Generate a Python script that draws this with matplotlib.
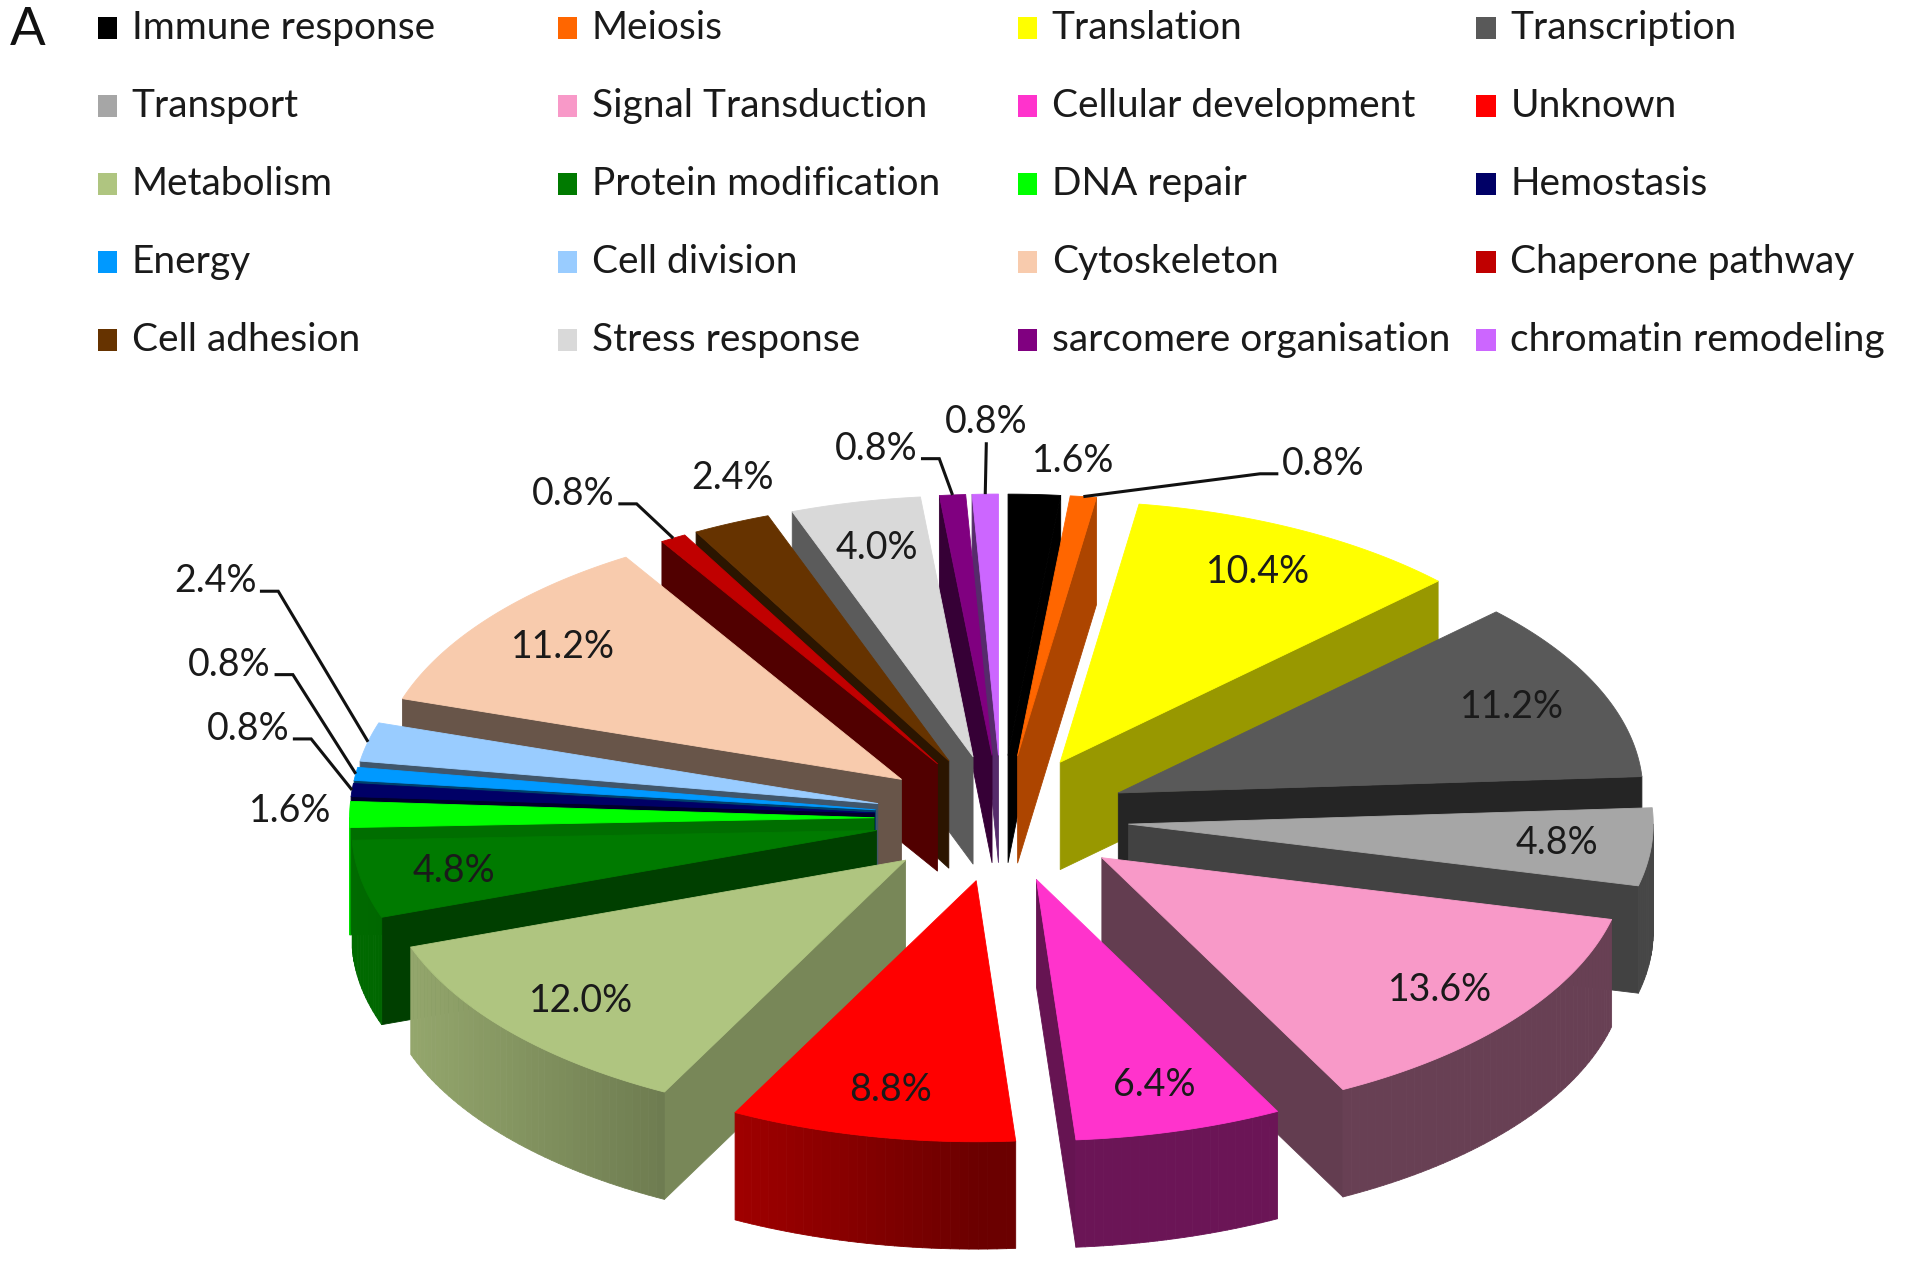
import numpy as np
import matplotlib
matplotlib.use("Agg")
import matplotlib.pyplot as plt
from matplotlib.patches import Polygon, Rectangle
from matplotlib import colors as mcolors

# ---------------- data ----------------
categories = ["Immune response", "Meiosis", "Translation", "Transcription",
              "Transport", "Signal Transduction", "Cellular development", "Unknown",
              "Metabolism", "Protein modification", "DNA repair", "Hemostasis",
              "Energy", "Cell division", "Cytoskeleton", "Chaperone pathway",
              "Cell adhesion", "Stress response", "sarcomere organisation",
              "chromatin remodeling"]
values = [1.6, 0.8, 10.4, 11.2, 4.8, 13.6, 6.4, 8.8, 12.0, 4.8,
          1.6, 0.8, 0.8, 2.4, 11.2, 0.8, 2.4, 4.0, 0.8, 0.8]
slice_colors = ["#000000", "#FF6600", "#FFFF00", "#595959", "#A6A6A6",
                "#F899C8", "#FF33CC", "#FF0000", "#AFC580", "#007A00",
                "#00FF00", "#000066", "#0099FF", "#99CCFF", "#F8CBAD",
                "#C00000", "#663300", "#D9D9D9", "#800080", "#CC66FF"]
pct_labels = [f"{v:.1f}%" for v in values]

# ---------------- layout / style ----------------
FONT = ["Lato", "DejaVu Sans"]
W, H = 1568, 1037            # working units (scaled to 1913x1265 output)
CX, CY = 821, 671            # pie centre
RX, RY = 430, 214            # top-face ellipse radii
EXPLODE = 0.243              # radial explosion (fraction of radius)
DEPTH = 88                   # projected thickness
INSIDE_R = 0.82
TXT = "#1a1a1a"

# outside label placement (radius factor, angle deg, leader style)
outside = {
    "Immune response": (1.376, 5.7, None),
    "Meiosis": (1.49, 24.3, "left"),
    "DNA repair": (1.356, 271.2, None),
    "Hemostasis": (1.477, 283.4, "right"),
    "Energy": (1.585, 291.8, "right"),
    "Cell division": (1.753, 301.2, "right"),
    "Chaperone pathway": (1.487, 326.7, "right"),
    "Cell adhesion": (1.40, 338.5, None),
    "sarcomere organisation": (1.436, 350.4, "right"),
    "chromatin remodeling": (1.52, 358.9, "down"),
}

fig = plt.figure(figsize=(19.13, 12.65), dpi=100)
ax = fig.add_axes([0, 0, 1, 1])
ax.set_xlim(0, W)
ax.set_ylim(H, 0)
ax.axis("off")

vals = np.array(values, dtype=float)
edges = np.concatenate([[0.0], np.cumsum(vals / vals.sum())]) * 360.0


def proj(r, th, off=(0.0, 0.0), z=0.0):
    t = np.radians(th)
    return (CX + off[0] + RX * r * np.sin(t),
            CY + off[1] - RY * r * np.cos(t) + z)


def shade(c, f):
    rgb = np.array(mcolors.to_rgb(c))
    return tuple(np.clip(rgb * f, 0, 1))


def poly(pts, col, z):
    p = Polygon(pts, closed=True, facecolor=col, edgecolor=col, lw=0.6,
                joinstyle="round", zorder=z)
    ax.add_patch(p)


wedges = []
for i in range(len(values)):
    t1, t2 = edges[i], edges[i + 1]
    mid = 0.5 * (t1 + t2)
    m = np.radians(mid)
    off = (EXPLODE * RX * np.sin(m), -EXPLODE * RY * np.cos(m))
    wedges.append((i, t1, t2, mid, off))

order = sorted(wedges, key=lambda w: -np.cos(np.radians(w[3])))

z = 1.0
for (i, t1, t2, mid, off) in order:
    col = slice_colors[i]
    tip = (CX + off[0], CY + off[1])
    tipb = (tip[0], tip[1] + DEPTH)
    # radial side faces
    if np.sin(np.radians(t1)) < 0:
        nu = -np.cos(np.radians(t1))
        f = 0.42 + 0.3 * max(nu, 0)
        a = proj(1, t1, off)
        b = proj(1, t1, off, DEPTH)
        poly([tip, a, b, tipb], shade(col, f), z)
    if np.sin(np.radians(t2)) > 0:
        nu = np.cos(np.radians(t2))
        f = 0.40 + 0.28 * max(nu, 0)
        a = proj(1, t2, off)
        b = proj(1, t2, off, DEPTH)
        poly([tip, a, b, tipb], shade(col, f), z)
    z += 0.01
    # outer curved wall (front half only)
    lo, hi = max(t1, 90.0), min(t2, 270.0)
    if hi > lo:
        n = max(int((hi - lo) / 1.0), 2)
        th = np.linspace(lo, hi, n + 1)
        for k in range(n):
            a, b = th[k], th[k + 1]
            nu = np.sin(np.radians(0.5 * (a + b)))
            f = 0.42 + 0.45 * max(-nu, 0)
            pts = [proj(1, a, off), proj(1, b, off),
                   proj(1, b, off, DEPTH), proj(1, a, off, DEPTH)]
            poly(pts, shade(col, f), z)
    z += 0.01
    # top face
    th = np.linspace(t1, t2, max(int((t2 - t1) / 0.5), 2) + 1)
    xs, ys = proj(1, th, off)
    pts = [tip] + list(zip(xs, ys))
    poly(pts, col, z)
    z += 0.01

# ---------------- percentage labels ----------------
fig.canvas.draw()
renderer = fig.canvas.get_renderer()
inv = ax.transData.inverted()

for (i, t1, t2, mid, off) in wedges:
    name = categories[i]
    if name not in outside:
        x, y = proj(INSIDE_R, mid, off)
        ax.text(x, y, pct_labels[i], ha="center", va="center", fontsize=27,
                family=FONT, color=TXT, zorder=50)
    else:
        r, ang, style = outside[name]
        x, y = proj(r, ang)
        t = ax.text(x, y, pct_labels[i], ha="center", va="center", fontsize=27,
                    family=FONT, color=TXT, zorder=50)
        if style is None:
            continue
        bb = t.get_window_extent(renderer)
        (x0, y0), (x1, y1) = inv.transform([[bb.x0, bb.y0], [bb.x1, bb.y1]])
        tx, ty = proj(1.0, mid, off)
        ly = y + 8
        if style == "right":
            pts = [(x1 + 3, ly), (x1 + 18, ly), (tx, ty)]
        elif style == "left":
            pts = [(x0 - 3, ly), (x0 - 18, ly), (tx, ty)]
        else:
            pts = [(x, y0 + 2), (tx, ty)]
        px, py = zip(*pts)
        ax.plot(px, py, color="#111111", lw=2.2, zorder=49,
                solid_capstyle="butt", solid_joinstyle="miter")

# ---------------- legend ----------------
COL_X = [80, 457, 834, 1210]
ROW_Y0, ROW_DY = 23, 64
for i, name in enumerate(categories):
    r, c = divmod(i, 4)
    x = COL_X[c]
    y = ROW_Y0 + r * ROW_DY
    ax.add_patch(Rectangle((x, y - 9), 16, 18, facecolor=slice_colors[i],
                           edgecolor="none", zorder=60))
    ax.text(x + 28, y, name, ha="left", va="center", fontsize=28,
            family=FONT, color=TXT, zorder=60)

ax.text(8, 25, "A", ha="left", va="center", fontsize=38, family=FONT,
        color="#111111")

fig.savefig("out.png", dpi=100)
